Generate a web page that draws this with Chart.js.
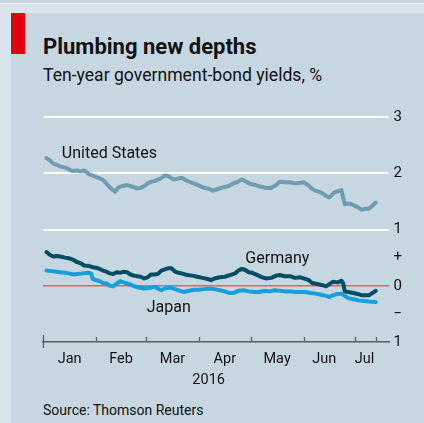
<!DOCTYPE html>
<html><head><meta charset="utf-8">
<script src="https://cdn.jsdelivr.net/npm/chart.js@4"></script>
<style>
html,body{margin:0;padding:0;}
body{width:424px;height:423px;position:relative;overflow:hidden;background:#d9e5ed;font-family:Roboto,sans-serif;}
#topline{position:absolute;left:0;top:0;width:424px;height:3px;background:#c6d4de;}
#topwhite{position:absolute;left:0;top:3px;width:424px;height:1px;background:#ffffff;}
#panel{position:absolute;left:11px;top:13px;width:413px;height:410px;background:#c6d7e2;}
#redbar{position:absolute;left:11px;top:13px;width:14px;height:41px;background:#e3000f;}
.t{position:absolute;left:43px;white-space:nowrap;color:#111;}
#title{top:36px;font-size:22px;font-weight:bold;line-height:22px;}
#sub{top:67px;font-size:17.6px;line-height:17.6px;}
#src{top:403px;font-size:14px;line-height:14px;}
#c{position:absolute;left:0;top:0;}
</style></head>
<body>
<div id="topline"></div><div id="topwhite"></div>
<div id="panel"></div><div id="redbar"></div>
<div class="t" id="title">Plumbing new depths</div>
<div class="t" id="sub">Ten-year government-bond yields, %</div>
<div class="t" id="src">Source: Thomson Reuters</div>
<canvas id="c" width="424" height="423"></canvas>
<script>
// Day of year 2016 (0 = Jan 1)
const usDays = [2,4,6,8,10,13,15,17,20,22,24,27,29,31,33,35,37,38,40,42,44,46,49,52,55,57,59,61,63,65,67,69,71,73,76,78,81,83,86,88,91,94,97,99,102,105,108,111,113,116,118,121,124,127,130,133,136,138,141,144,147,150,152,155,157,159,162,165,167,170,172,174,176,178,180,182,184,186,188,190,192,194];
const usYield = [2.27,2.23,2.17,2.15,2.12,2.10,2.07,2.04,2.05,2.03,2.05,1.98,1.96,1.93,1.91,1.88,1.82,1.78,1.72,1.67,1.75,1.77,1.79,1.76,1.73,1.74,1.77,1.82,1.85,1.86,1.89,1.91,1.96,1.95,1.89,1.90,1.92,1.88,1.84,1.82,1.78,1.74,1.72,1.69,1.72,1.75,1.77,1.82,1.84,1.89,1.86,1.81,1.79,1.76,1.74,1.74,1.79,1.85,1.84,1.84,1.82,1.83,1.84,1.78,1.72,1.69,1.66,1.60,1.57,1.66,1.68,1.70,1.45,1.46,1.45,1.42,1.39,1.35,1.37,1.37,1.42,1.48];

const deDays = [2,4,6,8,10,13,15,17,20,22,24,27,29,31,33,35,37,39,41,43,45,47,49,51,53,55,57,59,61,63,65,67,69,71,73,75,77,79,81,84,87,90,93,96,98,100,103,106,109,112,114,116,118,120,122,125,128,130,133,136,138,141,144,147,150,152,155,157,160,163,165,167,169,172,174,175,176,178,181,184,186,188,190,192,194];
const deYield = [0.60,0.55,0.52,0.53,0.52,0.50,0.49,0.47,0.42,0.40,0.36,0.35,0.33,0.32,0.30,0.27,0.25,0.22,0.21,0.24,0.23,0.25,0.24,0.20,0.18,0.17,0.16,0.13,0.15,0.20,0.20,0.21,0.27,0.29,0.31,0.31,0.25,0.23,0.22,0.19,0.18,0.16,0.14,0.12,0.10,0.13,0.15,0.16,0.19,0.22,0.27,0.30,0.28,0.24,0.23,0.19,0.15,0.13,0.14,0.18,0.19,0.17,0.17,0.14,0.15,0.13,0.10,0.05,0.03,0.01,-0.01,0.03,0.07,0.06,0.09,0.05,-0.10,-0.11,-0.13,-0.15,-0.17,-0.17,-0.17,-0.13,-0.09];

const jpDays = [2,5,8,10,13,15,18,20,23,26,28,29,31,33,35,37,39,41,43,45,47,49,51,53,56,59,62,65,67,69,71,74,77,80,82,85,88,91,94,97,100,103,106,109,111,114,117,120,123,126,129,132,135,138,141,144,147,150,153,156,159,162,165,167,169,171,174,176,178,181,184,187,190,194];
const jpYield = [0.27,0.26,0.25,0.24,0.23,0.22,0.20,0.21,0.22,0.23,0.22,0.12,0.10,0.08,0.05,0.04,0.00,-0.01,0.04,0.08,0.06,0.04,0.02,-0.01,-0.03,-0.05,-0.04,-0.02,-0.05,-0.08,-0.05,-0.03,-0.06,-0.09,-0.11,-0.09,-0.07,-0.07,-0.06,-0.05,-0.06,-0.08,-0.10,-0.13,-0.13,-0.09,-0.08,-0.10,-0.11,-0.11,-0.09,-0.10,-0.08,-0.09,-0.10,-0.10,-0.11,-0.11,-0.11,-0.13,-0.14,-0.16,-0.18,-0.20,-0.17,-0.15,-0.14,-0.18,-0.22,-0.24,-0.26,-0.27,-0.28,-0.29];

const monthStarts = [0,31,60,91,121,152,182,194];
const monthMids = [15.5,45.5,75.5,106,136.5,164,187.5];
const monthNames = ['Jan','Feb','Mar','Apr','May','Jun','Jul'];
const yearPos = 96.6;
const yearLabel = '2016';
const yTickValues = [-1,-0.5,0,0.5,1,2,3];
const yTickLabels = ['1','\u2212','0','+','1','2','3'];
const seriesNames = ['United States','Germany','Japan'];

const toPts = (d,v)=>d.map((x,i)=>({x:x,y:v[i]}));
const labelTicks = monthMids.concat([yearPos]);
const labelTexts = monthNames.concat([['',yearLabel]]);

const tickMarks = {
  id:'tickMarks',
  afterDraw(chart){
    const s=chart.scales.x, ctx=chart.ctx, b=chart.chartArea.bottom;
    ctx.save(); ctx.strokeStyle='#5d5d5d'; ctx.lineWidth=1.3;
    s.ticks.forEach((t,i)=>{
      const px=Math.round(s.getPixelForValue(t.value))+0.5;
      ctx.beginPath();
      if(i===0){ctx.moveTo(px,b-7);ctx.lineTo(px,b+6);} else {ctx.moveTo(px,b-5);ctx.lineTo(px,b);}
      ctx.stroke();
    });
    ctx.restore();
  }
};
const seriesLabels = {
  id:'seriesLabels',
  afterDatasetsDraw(chart,args,opts){
    const x=chart.scales.x, y=chart.scales.y, ctx=chart.ctx;
    ctx.save(); ctx.font='16px Roboto'; ctx.fillStyle='#111'; ctx.textBaseline='alphabetic'; ctx.textAlign='left';
    opts.items.forEach(it=>ctx.fillText(it.text,x.getPixelForValue(it.day),y.getPixelForValue(it.value)));
    ctx.restore();
  }
};

new Chart(document.getElementById('c'),{
  type:'line',
  data:{datasets:[
    {label:seriesNames[0],data:toPts(usDays,usYield),borderColor:'#6f9cb0',order:3},
    {label:seriesNames[1],data:toPts(deDays,deYield),borderColor:'#034d62',order:1},
    {label:seriesNames[2],data:toPts(jpDays,jpYield),borderColor:'#14a0db',order:2}
  ]},
  options:{
    responsive:false,animation:false,devicePixelRatio:1,
    layout:{padding:{top:117,left:43,right:18,bottom:26}},
    elements:{line:{borderWidth:4,tension:0,borderJoinStyle:'round',borderCapStyle:'round'},point:{radius:0}},
    plugins:{legend:{display:false},tooltip:{enabled:false},
      seriesLabels:{items:[
        {text:seriesNames[0],day:11,value:2.28},
        {text:seriesNames[1],day:118,value:0.40},
        {text:seriesNames[2],day:60.5,value:-0.46}
      ]}},
    scales:{
      x:{type:'linear',position:'bottom',min:0,max:202,weight:1,
        afterBuildTicks:s=>{s.ticks=monthStarts.map(v=>({value:v}));},
        grid:{display:false,drawTicks:false},
        border:{display:true,color:'#5d5d5d',width:1.5},
        ticks:{display:false}},
      x2:{type:'linear',position:'bottom',min:0,max:202,weight:2,
        afterBuildTicks:s=>{s.ticks=labelTicks.map(v=>({value:v}));},
        grid:{display:false,drawTicks:false},border:{display:false},
        ticks:{autoSkip:false,maxRotation:0,padding:6.5,color:'#111',font:{family:'Roboto',size:14.5,lineHeight:'21px'},callback:(v,i)=>labelTexts[i]}},
      y:{position:'right',min:-1,max:3,
        afterBuildTicks:s=>{s.ticks=yTickValues.map(v=>({value:v}));},
        grid:{drawTicks:false,
          color:c=>{const v=c.tick&&c.tick.value; if(v===0) return '#e0636c'; if(v>=1) return '#ffffff'; return 'rgba(0,0,0,0)';},
          lineWidth:c=>{const v=c.tick&&c.tick.value; return v===0?1.5:2;}},
        border:{display:false},
        ticks:{padding:4,color:'#111',font:{family:'Roboto',size:15},autoSkip:false,callback:(v,i)=>yTickLabels[i]}}
    }
  },
  plugins:[tickMarks,seriesLabels]
});
</script>
</body></html>
